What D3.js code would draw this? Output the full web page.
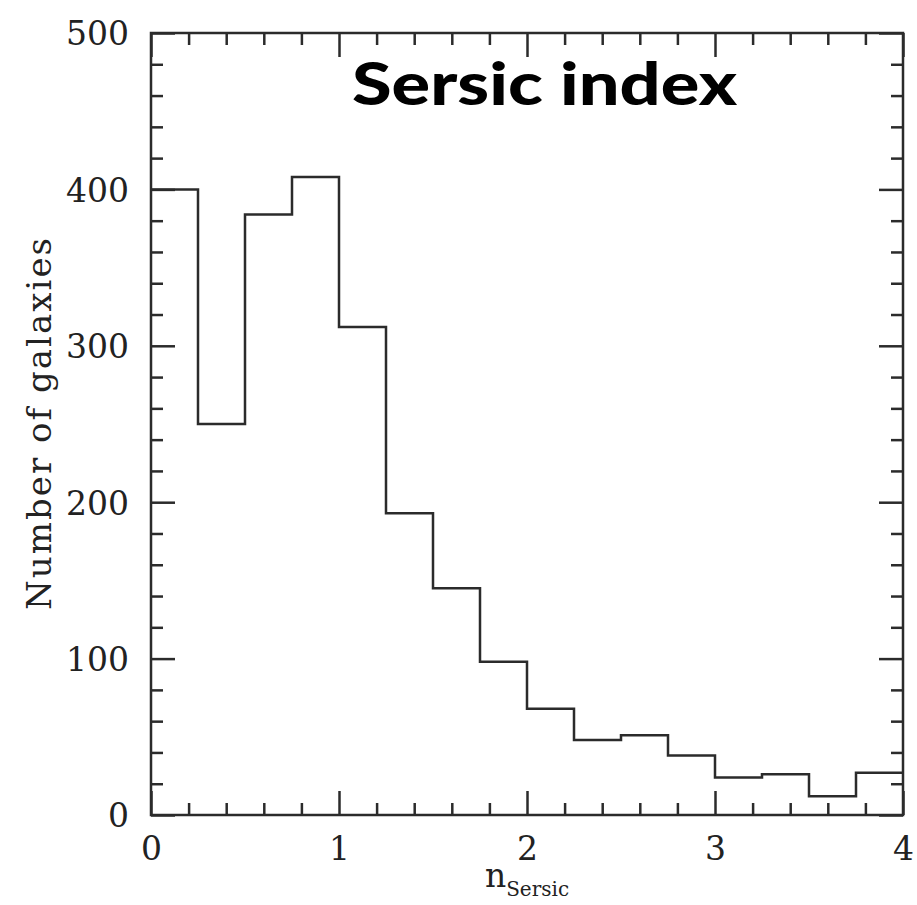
<!DOCTYPE html>
<html>
<head>
<meta charset="utf-8">
<script src="https://cdn.jsdelivr.net/npm/d3@7"></script>
<style>
  html, body { margin: 0; padding: 0; background: #fff; }
  svg { display: block; }
</style>
</head>
<body>
<div id="chart"></div>
<script>
// ---- Data ----
const binEdges = [0, 0.25, 0.5, 0.75, 1.0, 1.25, 1.5, 1.75, 2.0, 2.25, 2.5, 2.75, 3.0, 3.25, 3.5, 3.75, 4.0];
const counts   = [400, 250, 384, 408, 312, 193, 145, 98, 68, 48, 51, 38, 24, 26, 12, 27];
const xMajorTicks = [0, 1, 2, 3, 4];
const xMinorTicks = [0.2, 0.4, 0.6, 0.8, 1.2, 1.4, 1.6, 1.8, 2.2, 2.4, 2.6, 2.8, 3.2, 3.4, 3.6, 3.8];
const yMajorTicks = [0, 100, 200, 300, 400, 500];
const yMinorTicks = [20, 40, 60, 80, 120, 140, 160, 180, 220, 240, 260, 280, 320, 340, 360, 380, 420, 440, 460, 480];
const titleText = "Sersic index";
const yLabelText = "Number of galaxies";
const xLabelMain = "n";
const xLabelSub = "Sersic";

// ---- Layout ----
const W = 917, H = 905;
const margin = { left: 151, top: 33, right: 14, bottom: 90 };
const width = W - margin.left - margin.right;
const height = H - margin.top - margin.bottom;
const ink = "#2b2b2b";
const serif = "'DejaVu Serif', 'Liberation Serif', serif";

const svg = d3.select("#chart").append("svg").attr("width", W).attr("height", H);
const g = svg.append("g").attr("transform", `translate(${margin.left},${margin.top})`);

const x = d3.scaleLinear().domain([0, 4]).range([0, width]);
const y = d3.scaleLinear().domain([0, 500]).range([height, 0]);

const MAJ = 24, MIN = 12;

function styleAxis(sel) {
  sel.select(".domain").remove();
  sel.selectAll(".tick line").attr("stroke", ink).attr("stroke-width", 2.5);
  sel.selectAll(".tick text").attr("fill", "#222").style("font-family", serif).style("font-size", "33px");
}

// bottom axis
g.append("g").attr("transform", `translate(0,${height})`)
  .call(d3.axisBottom(x).tickValues(xMajorTicks).tickSize(-MAJ).tickFormat(d3.format("d")))
  .call(styleAxis)
  .call(s => s.selectAll(".tick text").attr("y", 45).attr("dy", 0));
g.append("g").attr("transform", `translate(0,${height})`)
  .call(d3.axisBottom(x).tickValues(xMinorTicks).tickSize(-MIN).tickFormat(""))
  .call(styleAxis);
// top axis
g.append("g")
  .call(d3.axisTop(x).tickValues(xMajorTicks).tickSize(-MAJ).tickFormat(""))
  .call(styleAxis);
g.append("g")
  .call(d3.axisTop(x).tickValues(xMinorTicks).tickSize(-MIN).tickFormat(""))
  .call(styleAxis);
// left axis
g.append("g")
  .call(d3.axisLeft(y).tickValues(yMajorTicks).tickSize(-MAJ).tickPadding(22).tickFormat(d3.format("d")))
  .call(styleAxis)
  .call(s => s.selectAll(".tick text").attr("dy", "0.36em"));
g.append("g")
  .call(d3.axisLeft(y).tickValues(yMinorTicks).tickSize(-MIN).tickFormat(""))
  .call(styleAxis);
// right axis
g.append("g").attr("transform", `translate(${width},0)`)
  .call(d3.axisRight(y).tickValues(yMajorTicks).tickSize(-MAJ).tickFormat(""))
  .call(styleAxis);
g.append("g").attr("transform", `translate(${width},0)`)
  .call(d3.axisRight(y).tickValues(yMinorTicks).tickSize(-MIN).tickFormat(""))
  .call(styleAxis);

// frame
g.append("rect").attr("x", 0).attr("y", 0).attr("width", width).attr("height", height)
  .attr("fill", "none").attr("stroke", ink).attr("stroke-width", 2.5);

// histogram step line
const steps = [];
counts.forEach((c, i) => {
  steps.push([binEdges[i], c]);
  steps.push([binEdges[i + 1], c]);
});
const line = d3.line().x(d => x(d[0])).y(d => y(d[1]));
g.append("path").datum(steps).attr("d", line)
  .attr("fill", "none").attr("stroke", ink).attr("stroke-width", 2.5)
  .attr("stroke-linejoin", "miter");

// y label
svg.append("text")
  .attr("transform", `translate(51,${margin.top + height / 2}) rotate(-90)`)
  .attr("text-anchor", "middle")
  .attr("fill", "#222")
  .style("font-family", serif).style("font-size", "34px")
  .attr("textLength", 372).attr("lengthAdjust", "spacing")
  .text(yLabelText);

// x label
const xl = svg.append("text")
  .attr("x", margin.left + width / 2).attr("y", 887)
  .attr("text-anchor", "middle")
  .attr("fill", "#222")
  .style("font-family", serif).style("font-size", "33px");
xl.append("tspan").text(xLabelMain);
xl.append("tspan").attr("dy", 9).style("font-size", "20px").text(xLabelSub);

// title
svg.append("text")
  .attr("x", 352).attr("y", 105)
  .attr("fill", "#000")
  .style("font-family", "Lato, 'Open Sans', sans-serif")
  .style("font-weight", 900)
  .style("font-size", "59px")
  .attr("textLength", 385).attr("lengthAdjust", "spacingAndGlyphs")
  .text(titleText);
</script>
</body>
</html>
